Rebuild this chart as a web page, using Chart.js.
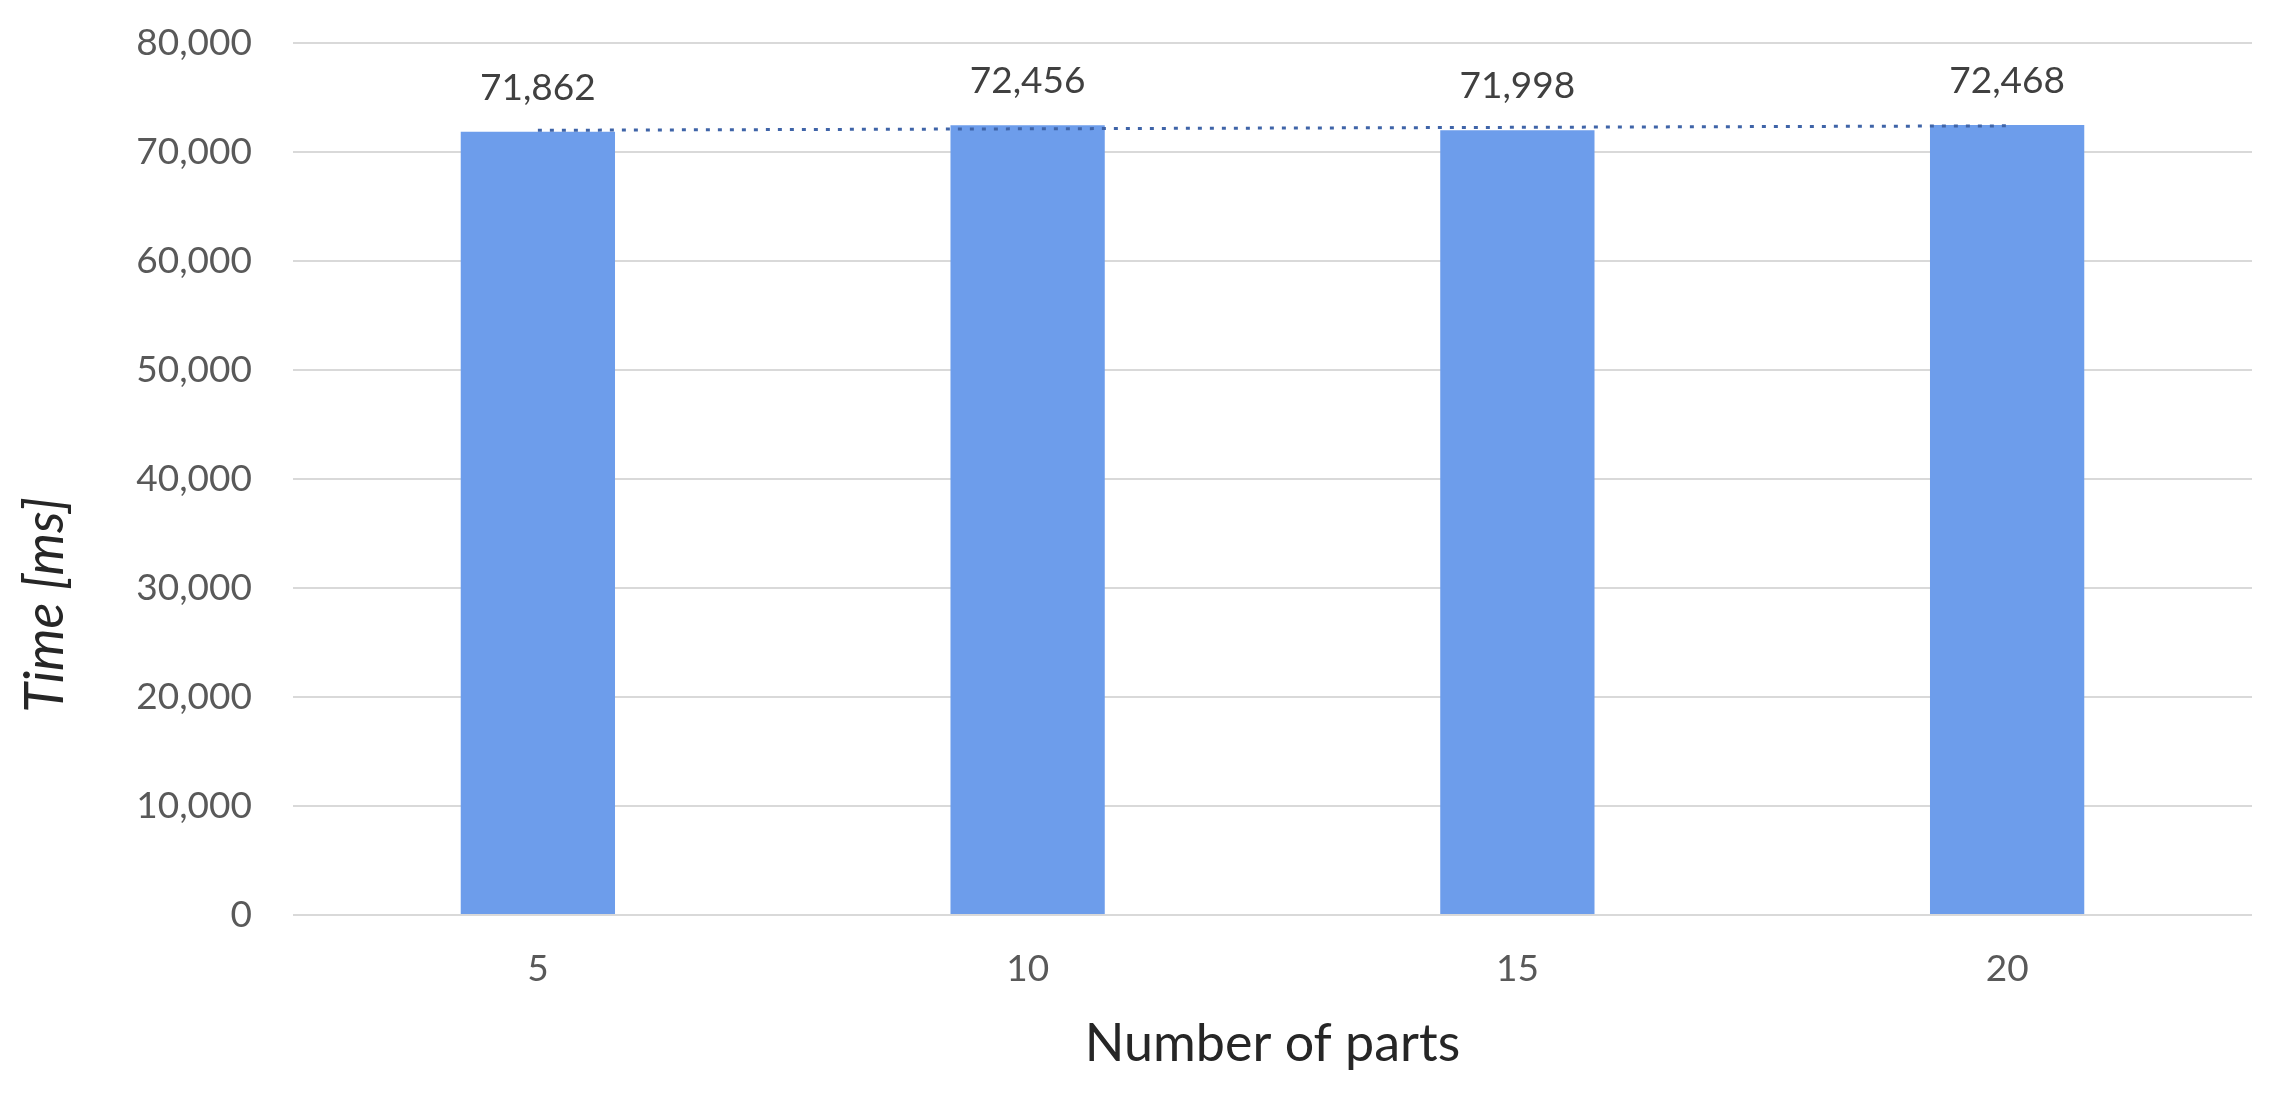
<!DOCTYPE html>
<html>
<head>
<meta charset="utf-8">
<script src="https://cdn.jsdelivr.net/npm/chart.js@4/dist/chart.umd.min.js"></script>
<style>
  html, body { margin: 0; padding: 0; background: #fff; }
  #wrap { width: 2269px; height: 1096px; }
</style>
</head>
<body>
<div id="wrap"><canvas id="chart"></canvas></div>
<script>
const parts = ['5', '10', '15', '20']
const times = [71862, 72456, 71998, 72468]
// linear trendline
const trend = [71990, 72127, 72263, 72400]
const yTicks = [0, 10000, 20000, 30000, 40000, 50000, 60000, 70000, 80000]
const yTitle = 'Time [ms]'

const fontFamily = 'Lato, "Open Sans", sans-serif'

// write the value above each bar + the y axis title (sits below centre in the original)
const barLabels = {
  id: 'barLabels',
  afterDatasetsDraw(chart) {
    const ctx = chart.ctx
    const meta = chart.getDatasetMeta(1)
    ctx.save()
    ctx.font = '37px ' + fontFamily
    ctx.fillStyle = '#404040'
    ctx.textAlign = 'center'
    ctx.textBaseline = 'alphabetic'
    meta.data.forEach(function (bar, i) {
      ctx.fillText(times[i].toLocaleString('en-US'), bar.x, bar.y - 32)
    })
    ctx.restore()
  },
  afterDraw(chart) {
    const ctx = chart.ctx
    ctx.save()
    ctx.translate(46, 605)
    ctx.rotate(-Math.PI / 2)
    ctx.font = 'italic 54px ' + fontFamily
    ctx.fillStyle = '#262626'
    ctx.textAlign = 'center'
    ctx.textBaseline = 'middle'
    ctx.fillText(yTitle, 0, 0)
    ctx.restore()
  }
}

const ctx = document.getElementById('chart')
const chart = new Chart(ctx, {
  data: {
    labels: parts,
    datasets: [{
      type: 'line',
      label: 'Trend',
      data: trend,
      borderColor: '#3f64a8',
      borderWidth: 3,
      borderDash: [4, 8],
      pointRadius: 0,
      fill: false,
      order: 0
    }, {
      type: 'bar',
      label: 'Time',
      data: times,
      backgroundColor: '#6d9deb',
      borderWidth: 0,
      barPercentage: 1,
      categoryPercentage: 0.315,
      order: 1
    }]
  },
  options: {
    responsive: true,
    maintainAspectRatio: false,
    animation: false,
    layout: { padding: { top: 43, right: 17, left: 0, bottom: 0 } },
    plugins: {
      legend: { display: false },
      tooltip: { enabled: false }
    },
    scales: {
      x: {
        grid: { display: false, drawTicks: false },
        border: { display: false },
        ticks: { color: '#595959', font: { family: fontFamily, size: 37 }, padding: 32 },
        title: {
          display: true,
          text: 'Number of parts',
          color: '#262626',
          font: { family: fontFamily, size: 52 },
          padding: { top: 0, bottom: 21 }
        },
        afterFit(scale) { scale.height = 181 }
      },
      y: {
        min: 0,
        max: 80000,
        afterBuildTicks(scale) { scale.ticks = yTicks.map(v => ({ value: v })) },
        grid: { color: '#d9d9d9', lineWidth: 2, drawTicks: false },
        border: { display: false },
        ticks: {
          color: '#595959',
          font: { family: fontFamily, size: 37 },
          padding: 41,
          callback: v => v.toLocaleString('en-US')
        },
        afterFit(scale) {
          scale.width = 293
          scale.paddingTop = 0
          scale.paddingBottom = 0
        }
      }
    }
  },
  plugins: [barLabels]
})
</script>
</body>
</html>
